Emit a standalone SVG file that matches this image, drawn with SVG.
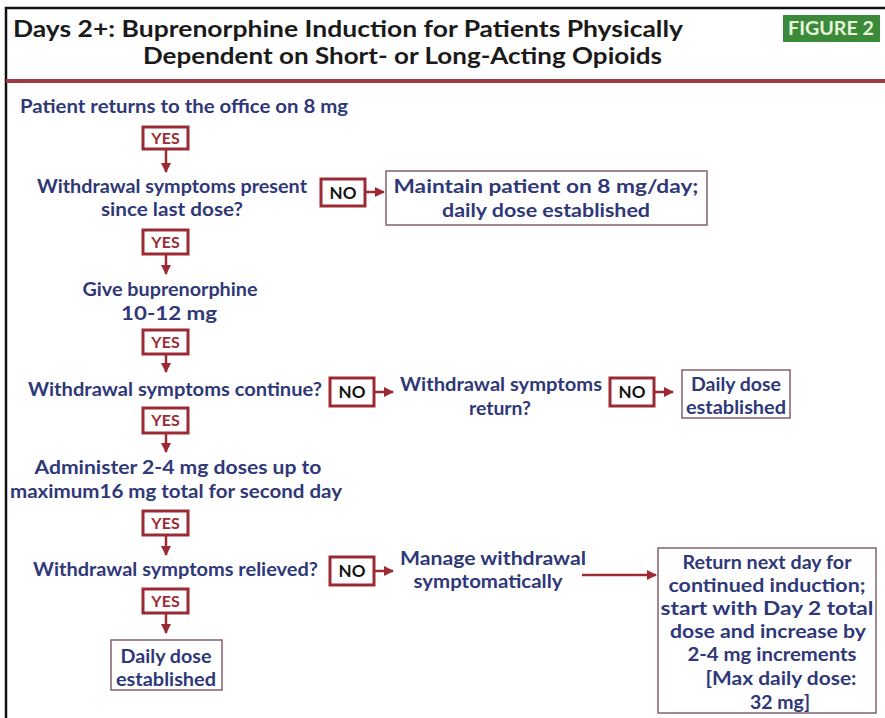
<svg xmlns="http://www.w3.org/2000/svg" width="885" height="718" viewBox="0 0 885 718">
<defs>
<style>
.t{font-family:Lato,"Open Sans","Liberation Sans",sans-serif;font-weight:700;font-size:19px;fill:#2f3878}
.m{text-anchor:middle}
.ttl{font-family:Lato,"Open Sans","Liberation Sans",sans-serif;font-weight:700;font-size:23px;fill:#1a1a1a}
.yb{fill:#fff;stroke:#9b2a35;stroke-width:3}
.yt{font-family:Lato,"Open Sans","Liberation Sans",sans-serif;font-weight:700;font-size:16px;fill:#9b2a35;text-anchor:middle}
.nt{font-family:Lato,"Open Sans","Liberation Sans",sans-serif;font-weight:700;font-size:17px;fill:#111;text-anchor:middle}
.ob{fill:#fff;stroke:#84606e;stroke-width:1.5}
.c{stroke:#9b2a35;stroke-width:2.5;fill:none}
</style>
<marker id="ah" viewBox="0 0 10 10" refX="9" refY="5" markerWidth="4" markerHeight="4" orient="auto" markerUnits="strokeWidth">
<path d="M0,0 L10,5 L0,10 z" fill="#9b2a35"/>
</marker>
</defs>
<rect width="885" height="718" fill="#fff"/>
<g id="frame">
<path d="M6,718 V8 H885" fill="none" stroke="#111" stroke-width="2.5"/>
<rect x="6" y="79" width="879" height="4" fill="#9e3a44"/>
</g>
<g id="title">
<text class="ttl" x="13" y="37" textLength="670" lengthAdjust="spacingAndGlyphs">Days 2+: Buprenorphine Induction for Patients Physically</text>
<text class="ttl" x="143" y="64" textLength="519" lengthAdjust="spacingAndGlyphs">Dependent on Short- or Long-Acting Opioids</text>
</g>
<g id="figure-label">
<rect x="783" y="15" width="97" height="27" fill="#3b8a3a"/>
<text x="831" y="35" font-family="Lato, Open Sans, Liberation Sans, sans-serif" font-weight="700" font-size="18" fill="#e6f4dc" text-anchor="middle" textLength="86" lengthAdjust="spacingAndGlyphs">FIGURE 2</text>
</g>
<g id="connectors">
<path class="c" d="M166,149 V172" marker-end="url(#ah)"/>
<path class="c" d="M166,254 V274" marker-end="url(#ah)"/>
<path class="c" d="M166,354 V372" marker-end="url(#ah)"/>
<path class="c" d="M166,433 V452" marker-end="url(#ah)"/>
<path class="c" d="M166,535 V555" marker-end="url(#ah)"/>
<path class="c" d="M166,613 V633" marker-end="url(#ah)"/>
<path class="c" d="M365,192 H384" marker-end="url(#ah)"/>
<path class="c" d="M374,392 H393" marker-end="url(#ah)"/>
<path class="c" d="M654,392 H673" marker-end="url(#ah)"/>
<path class="c" d="M374,571 H393" marker-end="url(#ah)"/>
<path class="c" d="M582,575 H656" stroke-width="3" marker-end="url(#ah)"/>
</g>
<g id="n-start">
<text class="t" x="20" y="113" textLength="328" lengthAdjust="spacingAndGlyphs">Patient returns to the office on 8 mg</text>
</g>
<g id="yes1"><rect class="yb" x="143" y="127" width="45" height="22"/><text class="yt" x="165.5" y="144">YES</text></g>
<g id="n-present">
<text class="t m" x="172" y="193" textLength="270" lengthAdjust="spacingAndGlyphs">Withdrawal symptoms present</text>
<text class="t m" x="172" y="216" textLength="142" lengthAdjust="spacingAndGlyphs">since last dose?</text>
</g>
<g id="no1"><rect class="yb" x="321" y="179" width="44" height="27"/><text class="nt" x="343" y="199">NO</text></g>
<g id="n-maintain">
<rect class="ob" x="386" y="171" width="321" height="54"/>
<text class="t m" x="546" y="193" textLength="305" lengthAdjust="spacingAndGlyphs">Maintain patient on 8 mg/day;</text>
<text class="t m" x="546" y="217" textLength="208" lengthAdjust="spacingAndGlyphs">daily dose established</text>
</g>
<g id="yes2"><rect class="yb" x="143" y="230" width="45" height="24"/><text class="yt" x="165.5" y="248">YES</text></g>
<g id="n-give">
<text class="t m" x="170" y="296" textLength="175" lengthAdjust="spacingAndGlyphs">Give buprenorphine</text>
<text class="t m" x="169" y="320" textLength="96" lengthAdjust="spacingAndGlyphs">10-12 mg</text>
</g>
<g id="yes3"><rect class="yb" x="143" y="330" width="45" height="24"/><text class="yt" x="165.5" y="348">YES</text></g>
<g id="n-continue">
<text class="t" x="28" y="396" textLength="294" lengthAdjust="spacingAndGlyphs">Withdrawal symptoms continue?</text>
</g>
<g id="no2"><rect class="yb" x="330" y="378" width="44" height="28"/><text class="nt" x="352" y="398">NO</text></g>
<g id="n-return">
<text class="t m" x="501" y="391" textLength="202" lengthAdjust="spacingAndGlyphs">Withdrawal symptoms</text>
<text class="t m" x="500" y="415" textLength="62" lengthAdjust="spacingAndGlyphs">return?</text>
</g>
<g id="no3"><rect class="yb" x="610" y="378" width="44" height="28"/><text class="nt" x="632" y="398">NO</text></g>
<g id="n-daily1">
<rect class="ob" x="682" y="370" width="108" height="48"/>
<text class="t m" x="736" y="391" textLength="90" lengthAdjust="spacingAndGlyphs">Daily dose</text>
<text class="t m" x="736" y="414" textLength="100" lengthAdjust="spacingAndGlyphs">established</text>
</g>
<g id="yes4"><rect class="yb" x="143" y="408" width="45" height="25"/><text class="yt" x="165.5" y="426">YES</text></g>
<g id="n-administer">
<text class="t m" x="178" y="474" textLength="287" lengthAdjust="spacingAndGlyphs">Administer 2-4 mg doses up to</text>
<text class="t m" x="176" y="498" textLength="332" lengthAdjust="spacingAndGlyphs">maximum16 mg total for second day</text>
</g>
<g id="yes5"><rect class="yb" x="143" y="511" width="45" height="24"/><text class="yt" x="165.5" y="529">YES</text></g>
<g id="n-relieved">
<text class="t" x="33" y="576" textLength="285" lengthAdjust="spacingAndGlyphs">Withdrawal symptoms relieved?</text>
</g>
<g id="no4"><rect class="yb" x="330" y="557" width="44" height="28"/><text class="nt" x="352" y="577">NO</text></g>
<g id="n-manage">
<text class="t m" x="493" y="565" textLength="186" lengthAdjust="spacingAndGlyphs">Manage withdrawal</text>
<text class="t m" x="488" y="588" textLength="149" lengthAdjust="spacingAndGlyphs">symptomatically</text>
</g>
<g id="n-nextday">
<rect class="ob" x="658" y="548" width="218" height="165"/>
<text class="t m" x="767" y="569" textLength="169" lengthAdjust="spacingAndGlyphs">Return next day for</text>
<text class="t m" x="767" y="592" textLength="197" lengthAdjust="spacingAndGlyphs">continued induction;</text>
<text class="t m" x="767" y="615" textLength="213" lengthAdjust="spacingAndGlyphs">start with Day 2 total</text>
<text class="t m" x="768" y="638" textLength="196" lengthAdjust="spacingAndGlyphs">dose and increase by</text>
<text class="t m" x="772" y="661" textLength="169" lengthAdjust="spacingAndGlyphs">2-4 mg increments</text>
<text class="t m" x="781" y="685" textLength="151" lengthAdjust="spacingAndGlyphs">[Max daily dose:</text>
<text class="t m" x="780" y="709" textLength="60" lengthAdjust="spacingAndGlyphs">32 mg]</text>
</g>
<g id="yes6"><rect class="yb" x="143" y="589" width="45" height="24"/><text class="yt" x="165.5" y="607">YES</text></g>
<g id="n-daily2">
<rect class="ob" x="111" y="640" width="111" height="50"/>
<text class="t m" x="166" y="663" textLength="91" lengthAdjust="spacingAndGlyphs">Daily dose</text>
<text class="t m" x="166" y="686" textLength="100" lengthAdjust="spacingAndGlyphs">established</text>
</g>
</svg>
